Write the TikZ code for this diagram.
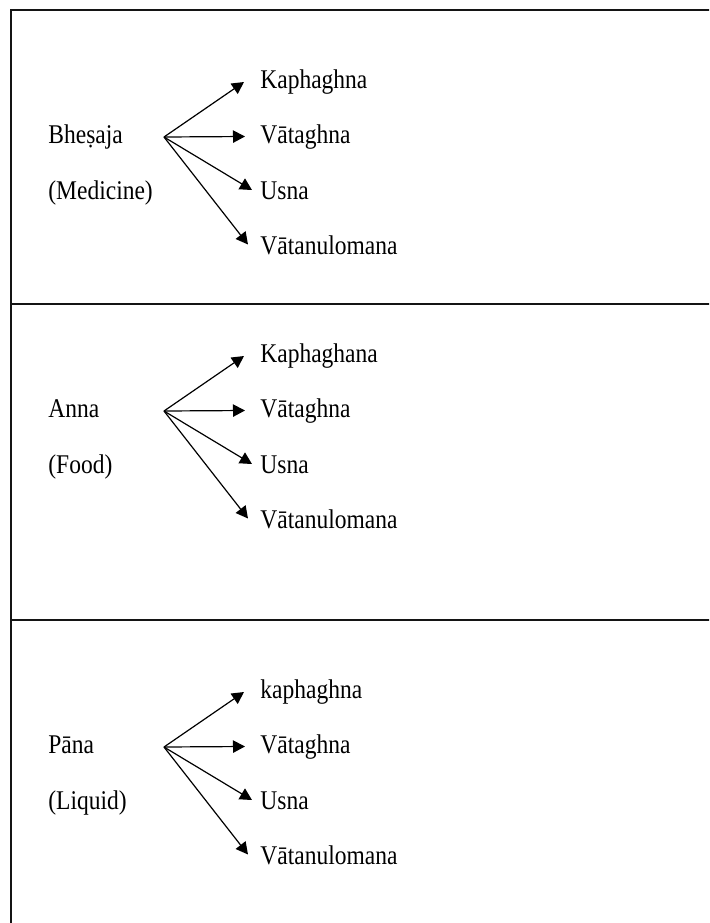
\documentclass[tikz,border=0pt]{standalone}
\usepackage{fontspec}
\setmainfont{Liberation Serif}
\usetikzlibrary{
    arrows.meta,
    positioning,
    calc
  }
\definecolor{boxcolor}{RGB}{20,20,20}
\tikzset{
  label_text/.style={inner sep=0pt, anchor=base west, yscale=1.15, font=\fontsize{11.75}{14}\selectfont},
  arrow_line/.style={line width=0.6pt, -{Triangle[length=6pt,width=6.2pt]}}
}
\tikzset{
  pics/branch/.style args={#1/#2/#3/#4}{
    code={
      \path[]
        (116,0) coordinate (root_#1)
      ;
      \path[]
        (0,6.5) node[label_text] (source_#1) {#2}
        (0,62) node[label_text] (gloss_#1) {#3}
      ;
      \path[]
        (212,-49) node[label_text] (kapha_#1) {#4}
        (212,6.5) node[label_text] (vata_#1) {Vātaghna}
        (212,62) node[label_text] (usna_#1) {Usna}
        (212,117.5) node[label_text] (anulomana_#1) {Vātanulomana}
      ;
      \path[draw,arrow_line] (root_#1) -- ([xshift=-8pt,yshift=3pt]kapha_#1.base west);
      \path[draw,arrow_line] (root_#1) -- ([xshift=-7.5pt,yshift=3.5pt]vata_#1.base west);
      \path[draw,arrow_line] (root_#1) -- ([xshift=-4pt,yshift=4.5pt]usna_#1.base west);
      \path[draw,arrow_line] (root_#1) -- ([xshift=-6pt,yshift=5pt]anulomana_#1.base west);
    }
  }
}

\begin{document}
\begin{tikzpicture}[x=0.5pt, y=-0.5pt]

\useasboundingbox (0,0) rectangle (709,923);
\path[clip] (0,0) rectangle (709,923);

\path[draw,line width=1.1pt,draw=boxcolor]
  (11,10) coordinate (box_topleft)
    -- (730,10) coordinate (box_topright)
    -- (730,940) coordinate (box_bottomright)
    -- (11,940) coordinate (box_bottomleft)
    -- cycle
;
\path[draw,line width=1.1pt,draw=boxcolor]
  (11,304) coordinate (row_one_left) -- (730,304) coordinate (row_one_right)
  (11,620) coordinate (row_two_left) -- (730,620) coordinate (row_two_right)
;

\path[] (48,137) pic {branch={1/Bheṣaja/(Medicine)/Kaphaghna}};
\path[] (48,411) pic {branch={2/Anna/(Food)/Kaphaghana}};
\path[] (48,747) pic {branch={3/Pāna/(Liquid)/kaphaghna}};

\end{tikzpicture}
\end{document}
